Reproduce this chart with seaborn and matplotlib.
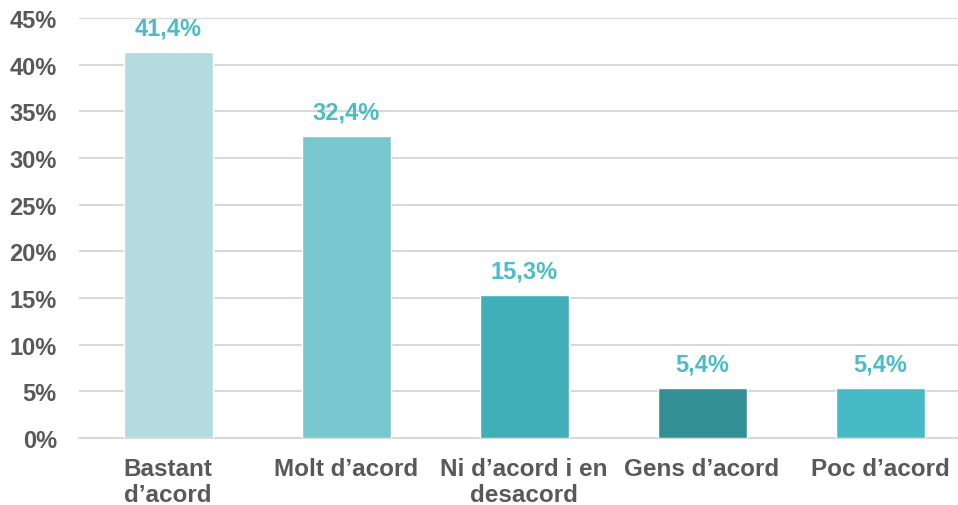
import matplotlib
matplotlib.use('Agg')
import matplotlib.pyplot as plt
import seaborn as sns
import pandas as pd

# dades del gràfic
categories = ['Bastant\nd\u2019acord', 'Molt d\u2019acord', 'Ni d\u2019acord i en\ndesacord',
              'Gens d\u2019acord', 'Poc d\u2019acord']
values = [41.4, 32.4, 15.3, 5.4, 5.4]
value_labels = ['41,4%', '32,4%', '15,3%', '5,4%', '5,4%']
bar_colors = ['#B3DBE0', '#79C7CE', '#40AFB8', '#339196', '#46BBC6']
yticks = [0, 5, 10, 15, 20, 25, 30, 35, 40, 45]

sns.set_style('white')
plt.rcParams['font.family'] = ['Liberation Sans', 'DejaVu Sans']

df = pd.DataFrame({'cat': categories, 'val': values})

fig = plt.figure(figsize=(9.58, 5.06), dpi=100)
ax = fig.add_axes([79 / 958, 67 / 506, 890 / 958, 420 / 506])

sns.barplot(data=df, x='cat', y='val', hue='cat', palette=bar_colors,
            width=0.5, legend=False, ax=ax, saturation=1, zorder=3)

ax.set_ylim(0, 45)
ax.set_xlim(-0.5, 4.5)
ax.set_yticks(yticks)
ax.set_yticklabels([f'{t}%' for t in yticks], fontsize=17, fontweight='bold', color='#595959')
ax.grid(axis='y', color='#D9D9D9', linewidth=1.5, zorder=0)
ax.set_axisbelow(True)
for s in ['left', 'right', 'top']:
    ax.spines[s].set_visible(False)
ax.spines['bottom'].set_color('#D9D9D9')
ax.spines['bottom'].set_linewidth(1.5)
ax.tick_params(axis='y', length=0, pad=16)
ax.set_xlabel('')
ax.set_ylabel('')

ax.set_xticks(range(len(categories)))
ax.set_xticklabels(categories, fontsize=17.5, fontweight='bold', color='#595959', linespacing=1.12)
ax.tick_params(axis='x', length=0, pad=14)

for i, (v, lab) in enumerate(zip(values, value_labels)):
    ax.annotate(lab, (i, v), xytext=(0, 9), textcoords='offset points',
                ha='center', va='bottom', fontsize=17, fontweight='bold', color='#4BBCC8')

fig.savefig('out.png', dpi=100)
